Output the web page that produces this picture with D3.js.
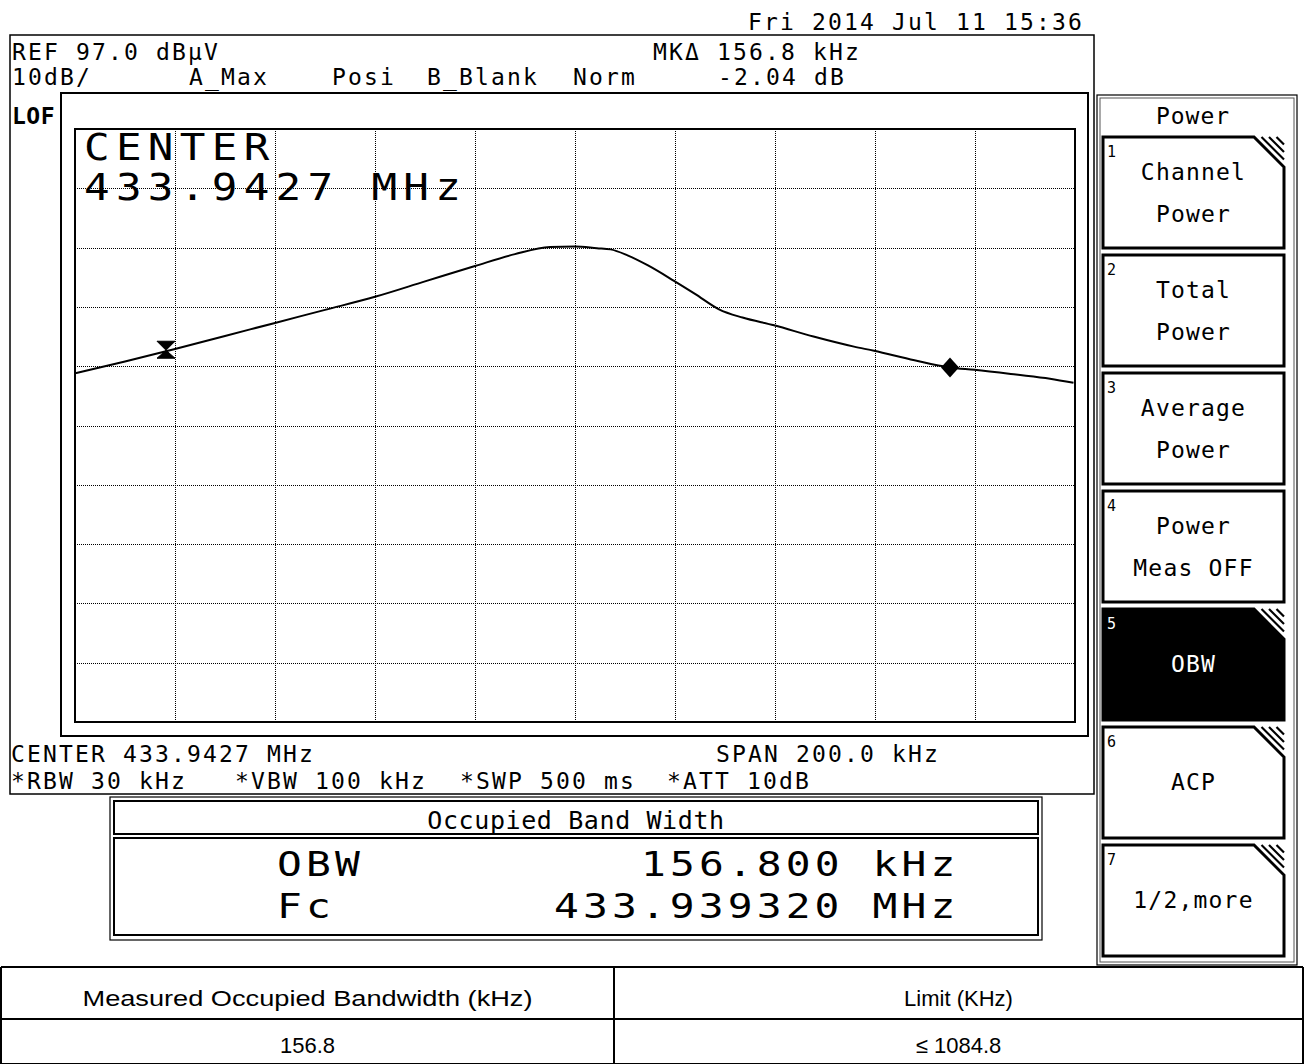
<!DOCTYPE html>
<html><head><meta charset="utf-8">
<script src="https://cdn.jsdelivr.net/npm/d3@7"></script>
<style>html,body{margin:0;padding:0;background:#fff;}svg{display:block;}</style>
</head><body>
<svg id="c" width="1305" height="1064"></svg>
<script>
// ---------------- data ----------------
const centerMHz = 433.9427;
const spanKHz = 200;
const refLevelDbuV = 97;
const dbPerDiv = 10;
const xGridKHz = [-100, -80, -60, -40, -20, 0, 20, 40, 60, 80, 100];
const yGridDb = [-3, 7, 17, 27, 37, 47, 57, 67, 77, 87, 97];

const traceOffsetKHz = [-100, -90, -80, -70, -60, -50, -40, -30, -20, -12, -5, 0, 4.4, 7.1, 10.5, 14.6, 19.8, 24, 28.8, 33.5, 39.8, 47.7, 55.8, 59.8, 67.9, 75, 79.9, 88.2, 95, 99.7];
const traceLevelDbuV = [55.8, 57.8, 59.9, 62.1, 64.3, 66.5, 68.7, 71.3, 73.9, 75.9, 77.1, 77.2, 76.9, 76.7, 75.7, 74.0, 71.4, 69.2, 66.6, 65.2, 63.9, 62.0, 60.3, 59.6, 58.0, 56.8, 56.4, 55.6, 54.9, 54.2];

const markerOffsetsKHz = [-81.8, 75.0];

const dateText = "Fri 2014 Jul 11 15:36";
const headerRow1 = ["REF 97.0 dBµV", "MKΔ 156.8 kHz"];
const headerRow2 = ["10dB/", "A_Max", "Posi", "B_Blank", "Norm", "-2.04 dB"];
const sideLabel = "LOF";
const bigCenter = ["CENTER", "433.9427 MHz"];
const footerRow1 = ["CENTER 433.9427 MHz", "SPAN 200.0 kHz"];
const footerRow2 = ["*RBW 30 kHz", "*VBW 100 kHz", "*SWP 500 ms", "*ATT 10dB"];
const obwTitle = "Occupied Band Width";
const obwNames = ["OBW", "Fc"];
const obwValues = ["156.800 kHz", "433.939320 MHz"];

const softkeyTitle = "Power";
const softkeyLabels = [["Channel", "Power"], ["Total", "Power"], ["Average", "Power"], ["Power", "Meas OFF"], ["OBW"], ["ACP"], ["1/2,more"]];
const softkeyHatched = [true, false, false, false, true, true, true];
const softkeyActive = 4;

const tableHeader = ["Measured Occupied Bandwidth (kHz)", "Limit (KHz)"];
const tableRow = ["156.8", "≤ 1084.8"];

// ---------------- drawing ----------------
const svg = d3.select("#c");
const mono = "'DejaVu Sans Mono', monospace";
const plot = {l: 75, t: 129, r: 1075, b: 722};

const x = d3.scaleLinear().domain([-spanKHz / 2, spanKHz / 2]).range([plot.l, plot.r]);
const y = d3.scaleLinear().domain([refLevelDbuV - 10 * dbPerDiv, refLevelDbuV]).range([plot.b, plot.t]);

function txt(g, s, px, py, size, opts = {}) {
  const t = g.append("text")
    .attr("font-family", opts.family || mono)
    .attr("font-size", size)
    .attr("letter-spacing", opts.ls != null ? opts.ls : 0)
    .attr("text-anchor", opts.anchor || "start")
    .attr("font-weight", opts.weight || "normal")
    .attr("fill", opts.fill || "#000")
    .text(s);
  if (opts.sx) {
    t.attr("transform", `translate(${px},${py}) scale(${opts.sx},1)`).attr("x", 0).attr("y", 0);
  } else {
    t.attr("x", px).attr("y", py);
  }
  if (opts.len) t.attr("textLength", opts.len).attr("lengthAdjust", "spacingAndGlyphs");
  return t;
}

// Frames
svg.append("rect").attr("x", 10).attr("y", 35).attr("width", 1084).attr("height", 759)
  .attr("fill", "none").attr("stroke", "#000").attr("stroke-width", 1.5);
svg.append("rect").attr("x", 61).attr("y", 93).attr("width", 1027).attr("height", 643)
  .attr("fill", "none").attr("stroke", "#000").attr("stroke-width", 2);

// Header texts
const hs = 23, hls = 2.15;
txt(svg, dateText, 748, 30, hs, {ls: hls});
txt(svg, headerRow1[0], 12, 60, hs, {ls: hls});
txt(svg, headerRow1[1], 653, 60, hs, {ls: hls});
const row2x = [12, 189, 332, 427, 573, 718];
headerRow2.forEach((s, i) => txt(svg, s, row2x[i], 85, hs, {ls: hls}));
txt(svg, sideLabel, 12, 124, hs, {ls: 0.5, weight: "bold"});

// Grid via axes
const gx = svg.append("g").attr("transform", `translate(0,${plot.b})`)
  .call(d3.axisBottom(x).tickValues(xGridKHz).tickSize(-(plot.b - plot.t)).tickFormat(""));
const gy = svg.append("g").attr("transform", `translate(${plot.l},0)`)
  .call(d3.axisLeft(y).tickValues(yGridDb).tickSize(-(plot.r - plot.l)).tickFormat(""));
[gx, gy].forEach(g => {
  g.select(".domain").remove();
  g.selectAll(".tick line").attr("stroke", "#000").attr("stroke-width", 1)
    .attr("stroke-dasharray", "1,1").attr("shape-rendering", "crispEdges");
});

// plot border
svg.append("rect").attr("x", plot.l).attr("y", plot.t).attr("width", plot.r - plot.l).attr("height", plot.b - plot.t)
  .attr("fill", "none").attr("stroke", "#000").attr("stroke-width", 2);

// big center text
txt(svg, bigCenter[0], 84, 160, 37, {ls: 5.5, sx: 1.15});
txt(svg, bigCenter[1], 84, 200, 37, {ls: 5.5, sx: 1.15});

// trace
const traceData = traceOffsetKHz.map((f, i) => [f, traceLevelDbuV[i]]);
svg.append("path").datum(traceData)
  .attr("d", d3.line().x(d => x(d[0])).y(d => y(d[1])).curve(d3.curveMonotoneX))
  .attr("fill", "none").attr("stroke", "#000").attr("stroke-width", 2);

// markers
const bis = d3.bisector(d => d).left;
function levelAt(f) {
  const i = Math.max(1, Math.min(traceOffsetKHz.length - 1, bis(traceOffsetKHz, f)));
  const f0 = traceOffsetKHz[i - 1], f1 = traceOffsetKHz[i];
  const t = (f - f0) / (f1 - f0);
  return traceLevelDbuV[i - 1] + t * (traceLevelDbuV[i] - traceLevelDbuV[i - 1]);
}
{
  const mx = x(markerOffsetsKHz[0]), my = y(levelAt(markerOffsetsKHz[0]));
  svg.append("path").attr("d", `M${mx - 9},${my - 10}L${mx + 9},${my - 10}L${mx},${my - 1}Z M${mx},${my - 1}L${mx + 9},${my + 7}L${mx - 9},${my + 7}Z`)
    .attr("fill", "#000").attr("stroke", "#000").attr("stroke-width", 1);
  const m2x = x(markerOffsetsKHz[1]), m2y = y(levelAt(markerOffsetsKHz[1]));
  svg.append("path").attr("d", `M${m2x},${m2y - 10}L${m2x + 9},${m2y}L${m2x},${m2y + 10}L${m2x - 9},${m2y}Z`)
    .attr("fill", "#000");
}

// footer texts
txt(svg, footerRow1[0], 11, 762, hs, {ls: hls});
txt(svg, footerRow1[1], 716, 762, hs, {ls: hls});
const frx = [11, 235, 460, 667];
footerRow2.forEach((s, i) => txt(svg, s, frx[i], 789, hs, {ls: hls}));

// OBW box
svg.append("rect").attr("x", 110).attr("y", 797).attr("width", 932).attr("height", 143)
  .attr("fill", "none").attr("stroke", "#000").attr("stroke-width", 1.2);
svg.append("rect").attr("x", 114).attr("y", 801).attr("width", 924).attr("height", 33)
  .attr("fill", "none").attr("stroke", "#000").attr("stroke-width", 2);
svg.append("rect").attr("x", 114).attr("y", 838).attr("width", 924).attr("height", 97)
  .attr("fill", "none").attr("stroke", "#000").attr("stroke-width", 2);
txt(svg, obwTitle, 576, 829, 25, {ls: 0.6, anchor: "middle"});
const obwOpts = {ls: 3.3, sx: 1.25};
txt(svg, obwNames[0], 277, 876, 33, obwOpts);
txt(svg, obwNames[1], 277, 918, 33, obwOpts);
txt(svg, obwValues[0], 641, 876, 33, obwOpts);
txt(svg, obwValues[1], 554, 918, 33, obwOpts);

// Softkey panel
const pL = 1097, pR = 1297, pT = 95, pB = 965;
svg.append("rect").attr("x", pL).attr("y", pT).attr("width", pR - pL).attr("height", pB - pT)
  .attr("fill", "none").attr("stroke", "#000").attr("stroke-width", 1.2);
svg.append("rect").attr("x", pL + 3).attr("y", pT + 3).attr("width", pR - pL - 6).attr("height", pB - pT - 6)
  .attr("fill", "none").attr("stroke", "#555").attr("stroke-width", 1);
txt(svg, softkeyTitle, 1193, 124, hs, {ls: 1, anchor: "middle"});

const bL = 1103, bR = 1284, bH = 111, cut = 30;
softkeyLabels.forEach((lines, i) => {
  const top = 137 + i * 118, bot = top + bH;
  const g = svg.append("g");
  const active = i === softkeyActive;
  const col = active ? "#fff" : "#000";
  const pts = softkeyHatched[i]
    ? [[bL, top], [bR - cut, top], [bR, top + cut], [bR, bot], [bL, bot]]
    : [[bL, top], [bR, top], [bR, bot], [bL, bot]];
  g.append("polygon").attr("points", pts.map(p => p.join(",")).join(" "))
    .attr("fill", active ? "#000" : "#fff").attr("stroke", "#000").attr("stroke-width", 3);
  if (softkeyHatched[i]) {
    for (let k = 1; k <= 3; k++) {
      const d = k * 7.5;
      g.append("line").attr("x1", bR - cut + d).attr("y1", top).attr("x2", bR).attr("y2", top + cut - d)
        .attr("stroke", "#000").attr("stroke-width", 2.2);
    }
  }
  txt(g, String(i + 1), 1107, top + 20, 15, {fill: col});
  const cx = (bL + bR) / 2;
  if (lines.length === 2) {
    txt(g, lines[0], cx, top + 43, hs, {ls: 1.2, anchor: "middle", fill: col});
    txt(g, lines[1], cx, top + 85, hs, {ls: 1.2, anchor: "middle", fill: col});
  } else {
    txt(g, lines[0], cx, top + 63, hs, {ls: 1.2, anchor: "middle", fill: col});
  }
});

// Table
const sans = "'Liberation Sans', Arial, sans-serif";
const tT = 967, tM = 1019, tB = 1064, tL = 1, tR = 1303, tC = 614;
const tg = svg.append("g").attr("stroke", "#000").attr("stroke-width", 2);
tg.append("line").attr("x1", tL).attr("y1", tT).attr("x2", tR).attr("y2", tT);
tg.append("line").attr("x1", tL).attr("y1", tM).attr("x2", tR).attr("y2", tM);
tg.append("line").attr("x1", tL).attr("y1", tB).attr("x2", tR).attr("y2", tB);
tg.append("line").attr("x1", tL).attr("y1", tT).attr("x2", tL).attr("y2", tB);
tg.append("line").attr("x1", tR).attr("y1", tT).attr("x2", tR).attr("y2", tB);
tg.append("line").attr("x1", tC).attr("y1", tT).attr("x2", tC).attr("y2", tB);
txt(svg, tableHeader[0], (tL + tC) / 2, 1006, 22, {family: sans, anchor: "middle", len: 450});
txt(svg, tableHeader[1], (tC + tR) / 2, 1006, 22, {family: sans, anchor: "middle"});
txt(svg, tableRow[0], (tL + tC) / 2, 1053, 22, {family: sans, anchor: "middle"});
txt(svg, tableRow[1], (tC + tR) / 2, 1053, 22, {family: sans, anchor: "middle"});
</script>
</body></html>
